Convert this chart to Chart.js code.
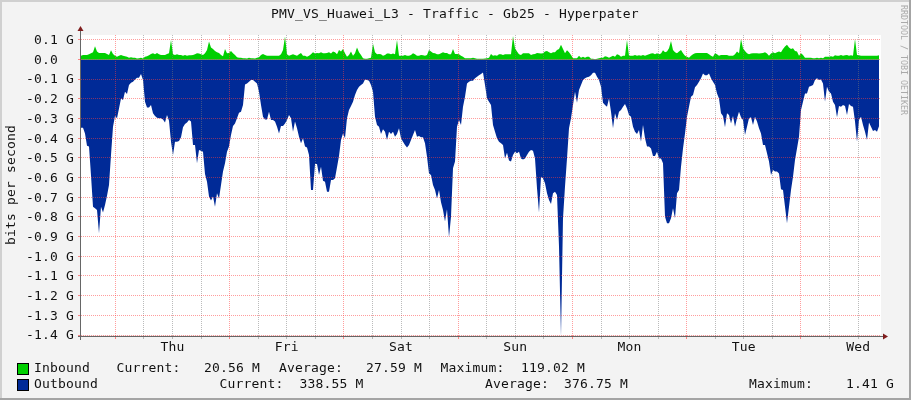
<!DOCTYPE html>
<html>
<head>
<meta charset="utf-8">
<script src="https://cdn.jsdelivr.net/npm/chart.js@4/dist/chart.umd.js"></script>
<style>
html,body{margin:0;padding:0;background:#f3f3f3;}
#frame{position:relative;width:911px;height:400px;background:#f3f3f3;overflow:hidden;font-family:"DejaVu Sans Mono",monospace;font-size:13px;letter-spacing:0.17px;color:#111;}
#frame .t{position:absolute;white-space:pre;line-height:16px;}
.edge{position:absolute;}
.sw{position:absolute;width:10px;height:10px;border:1px solid #000;}
canvas{position:absolute;left:0;top:0;}
</style>
</head>
<body>
<div id="frame">
<canvas id="c" width="911" height="400"></canvas>
<div class="edge" style="left:0;top:0;width:911px;height:2px;background:#d0d0d0"></div>
<div class="edge" style="left:0;top:0;width:2px;height:400px;background:#d0d0d0"></div>
<div class="edge" style="left:909px;top:0;width:2px;height:400px;background:#a4a4a4"></div>
<div class="edge" style="left:0;top:398px;width:911px;height:2px;background:#a4a4a4"></div>
<div id="texts"></div>
</div>
<script>
// Traffic values in Mbit/s, one sample per step across the 7-day window
const inbound = [
19,23,23,23,26,31,36,67,40,33,33,33,33,28,23,47,28,19,14,19,
23,19,16,13,9,11,8,8,4,6,8,4,13,16,21,28,31,26,33,26,
23,23,23,28,31,99,26,23,26,23,23,19,23,19,21,21,23,26,31,30,
26,23,31,48,91,60,53,43,36,33,23,16,53,31,33,43,31,23,11,8,
8,6,6,4,8,6,6,4,8,11,23,28,23,19,19,19,19,19,19,19,
26,48,116,26,19,23,26,23,19,26,33,19,19,14,19,26,36,30,33,31,
36,31,31,33,36,30,40,36,26,48,40,53,31,14,23,
40,19,31,60,36,23,6,3,3,6,8,79,36,26,28,26,19,23,30,30,
26,30,26,99,18,19,19,23,19,19,23,31,26,19,19,23,21,19,23,48,
40,33,31,26,26,31,36,33,33,26,26,53,28,28,26,19,13,6,6,6,
6,8,6,3,3,3,3,4,6,9,28,19,21,19,26,26,23,26,26,26,
26,119,57,40,26,23,31,31,31,31,23,26,28,33,31,30,31,40,43,36,
31,36,36,48,53,74,53,31,47,36,23,6,6,6,19,9,13,9,13,13,
3,3,1,3,6,9,9,16,13,9,14,19,14,26,23,
13,19,19,99,19,19,19,23,19,21,19,23,19,23,26,30,31,26,31,26,
30,47,36,40,57,94,48,36,31,40,48,31,19,14,9,19,26,31,33,33,
33,33,33,33,26,19,14,31,26,19,23,23,23,23,19,19,19,26,40,31,
104,57,43,31,26,30,31,31,31,30,31,33,36,30,19,30,36,31,36,40,
36,53,65,74,60,53,57,43,40,19,31,23,9,9,8,8,6,6,8,6,
8,6,13,13,13,16,14,21,19,19,23,19,21,23,19,21,19,104,23,21,
19,19,19,19,19,19,19,18,18,21
];
const outbound = [
-347,-347,-376,-438,-443,-590,-748,-756,-765,-883,-748,-778,-739,-692,-638,-486,-342,-288,-299,-249,
-198,-206,-164,-176,-130,-118,-113,-102,-93,-93,-74,-105,-215,-244,-244,-232,-274,-288,-296,-299,
-299,-305,-321,-283,-311,-418,-486,-418,-418,-415,-396,-345,-328,-321,-308,-316,-435,-435,-528,-460,
-464,-469,-582,-621,-697,-717,-697,-748,-680,-706,-638,-570,-528,-469,-443,-384,-338,-325,-299,-271,
-266,-232,-127,-122,-113,-105,-105,-113,-122,-164,-232,-291,-305,-305,-266,-308,-308,-316,-342,-376,
-338,-338,-325,-308,-283,-299,-367,-316,-350,-393,-426,-401,-443,-447,-486,-663,-663,-531,-531,-587,
-545,-616,-621,-672,-672,-613,-613,-604,-548,-491,-409,-376,-401,-299,-257,
-237,-215,-181,-156,-139,-130,-122,-102,-105,-108,-130,-164,-291,-333,-342,-379,-355,-367,-409,-367,
-379,-367,-393,-379,-350,-401,-418,-435,-447,-435,-409,-384,-359,-393,-389,-396,-396,-426,-494,-579,
-587,-638,-663,-706,-663,-726,-765,-824,-761,-904,-799,-553,-519,-342,-308,-333,-240,-190,-122,-113,
-108,-108,-96,-88,-80,-74,-66,-130,-198,-215,-232,-333,-367,-401,-418,-426,-435,-503,-474,-514,
-519,-486,-469,-477,-469,-503,-508,-503,-486,-469,-460,-464,-503,-655,-778,-596,-604,-629,-680,-714,
-734,-680,-672,-689,-951,-1405,-807,-646,-503,-350,-299,-232,-164,-220,-156,-130,-105,-96,-91,-88,
-80,-68,-68,-88,-105,-139,-220,-232,-240,-198,-266,-350,-274,-308,-266,
-257,-240,-227,-249,-283,-291,-342,-367,-379,-359,-418,-333,-401,-443,-443,-452,-491,-491,-469,-503,
-503,-528,-799,-832,-832,-807,-756,-807,-680,-663,-545,-452,-376,-291,-240,-190,-181,-142,-130,-113,
-96,-71,-80,-80,-71,-96,-113,-130,-173,-198,-274,-288,-345,-274,-283,-325,-288,-342,-299,-266,
-294,-308,-384,-342,-299,-294,-333,-291,-316,-350,-376,-435,-435,-477,-519,-587,-562,-570,-570,-579,
-660,-663,-748,-832,-748,-663,-596,-511,-452,-393,-257,-215,-173,-173,-139,-135,-130,-105,-96,-105,
-102,-122,-215,-139,-164,-173,-215,-232,-294,-237,-240,-232,-237,-283,-227,-237,-240,-316,-418,-308,
-291,-333,-367,-409,-321,-342,-364,-359,-367,-339
];
const sampleHours = 0.42;       // hours between samples
const windowStartHour = -7.2;   // relative to Thursday 00:00
const windowHours = 168;
const dayLabels = ["Thu","Fri","Sat","Sun","Mon","Tue","Wed"];
const yTickValues = [100,0,-100,-200,-300,-400,-500,-600,-700,-800,-900,-1000,-1100,-1200,-1300,-1400];
const yTickLabels = ["0.1 G","0.0  ","-0.1 G","-0.2 G","-0.3 G","-0.4 G","-0.5 G","-0.6 G","-0.7 G","-0.8 G","-0.9 G","-1.0 G","-1.1 G","-1.2 G","-1.3 G","-1.4 G"];
const xTickHours = [];
for (let h = 0; h <= 156; h += 6) xTickHours.push(h);
const titleText = "PMV_VS_Huawei_L3 - Traffic - Gb25 - Hyperpater";
const yAxisText = "bits per second";
const creditText = "RRDTOOL / TOBI OETIKER";

const toPoints = arr => arr.map((v,i)=>({x:windowStartHour+i*sampleHours,y:v}));
const MONO = '"DejaVu Sans Mono", monospace';

const framePlugin = {
  id:'frame',
  beforeDraw(ch){
    const a=ch.chartArea,c=ch.ctx;
    c.save();c.fillStyle='#fff';c.fillRect(a.left,a.top,a.right-a.left,a.bottom-a.top);c.restore();
  },
  afterDraw(ch){
    const a=ch.chartArea,c=ch.ctx;
    c.save();
    c.strokeStyle='#666';c.lineWidth=1;
    c.beginPath();
    c.moveTo(a.left-0.5,a.top-5);c.lineTo(a.left-0.5,a.bottom+5);
    c.moveTo(a.left-3,a.bottom+1.5);c.lineTo(a.right+4,a.bottom+1.5);
    c.stroke();
    c.fillStyle='#7f1d1d';
    c.beginPath();
    c.moveTo(a.left-3.5,a.top-4);c.lineTo(a.left+2.5,a.top-4);c.lineTo(a.left-0.5,a.top-9);c.closePath();c.fill();
    c.beginPath();
    c.moveTo(a.right+2,a.bottom-1.5);c.lineTo(a.right+2,a.bottom+4.5);c.lineTo(a.right+7,a.bottom+1.5);c.closePath();c.fill();
    c.restore();
  }
};

new Chart(document.getElementById('c'),{
  type:'line',
  data:{datasets:[
    {label:'Inbound',data:toPoints(inbound),backgroundColor:'#00CF00',borderWidth:0,pointRadius:0,fill:'origin'},
    {label:'Outbound',data:toPoints(outbound),backgroundColor:'#002A97',borderWidth:0,pointRadius:0,fill:'origin'}
  ]},
  options:{
    responsive:false,animation:false,devicePixelRatio:1,
    layout:{padding:{top:35,right:30,left:0,bottom:0}},
    plugins:{legend:{display:false},title:{display:false},tooltip:{enabled:false}},
    scales:{
      x:{type:'linear',min:windowStartHour,max:windowStartHour+windowHours,
        afterBuildTicks(s){s.ticks=xTickHours.map(v=>({value:v}));},
        afterFit(s){s.height=65;},
        border:{display:false,dash:[1,1]},
        grid:{z:1,drawTicks:true,tickLength:4,lineWidth:1,
          color:c=>(c.tick.value%24===0)?'rgba(255,60,60,0.5)':'rgba(120,120,120,0.5)',
          tickColor:c=>(c.tick.value%24===0)?'rgba(255,60,60,0.6)':'rgba(120,120,120,0.5)',
          tickBorderDash:[]},
        ticks:{autoSkip:false,maxRotation:0,padding:1,color:'#111',font:{family:MONO,size:13},
          callback(v){return v%24===12?dayLabels[(v-12)/24]:'';}}
      },
      y:{type:'linear',min:-1400,max:124,
        afterBuildTicks(s){s.ticks=yTickValues.map(v=>({value:v}));},
        afterFit(s){s.width=81;},
        border:{display:false,dash:[1,1]},
        grid:{z:1,drawTicks:true,tickLength:3,lineWidth:1,
          color:'rgba(255,60,60,0.5)',tickColor:'rgba(255,60,60,0.6)',tickBorderDash:[]},
        ticks:{autoSkip:false,padding:4,labelOffset:1,color:'#111',font:{family:MONO,size:13},
          callback(v,i){return yTickLabels[i];}}
      }
    }
  },
  plugins:[framePlugin]
});

const texts = [
  [titleText,271,6],
  ["Inbound",34,360],["Current:",116.5,360],["20.56 M",204,360],["Average:",279,360],["27.59 M",366,360],["Maximum:",440.5,360],["119.02 M",521,360],
  ["Outbound",34,376],["Current:",219.5,376],["338.55 M",299.5,376],["Average:",485,376],["376.75 M",564,376],["Maximum:",749,376],["1.41 G",846,376]
];
const host=document.getElementById('texts');
for(const [s,x,y] of texts){const d=document.createElement('div');d.className='t';d.textContent=s;d.style.left=x+'px';d.style.top=y+'px';host.appendChild(d);}
const yl=document.createElement('div');yl.className='t';yl.textContent=yAxisText;
yl.style.cssText='left:11px;top:185px;transform:translate(-50%,-50%) rotate(-90deg);';host.appendChild(yl);
const cr=document.createElement('div');cr.className='t';cr.textContent=creditText;
cr.style.cssText='left:899px;top:5px;writing-mode:vertical-rl;font-size:8.3px;line-height:9px;letter-spacing:0;color:#aaa;';host.appendChild(cr);
for(const [col,y] of [['#00CF00',363],['#002A97',379]]){const d=document.createElement('div');d.className='sw';d.style.left='17px';d.style.top=y+'px';d.style.background=col;host.appendChild(d);}
</script>
</body>
</html>
